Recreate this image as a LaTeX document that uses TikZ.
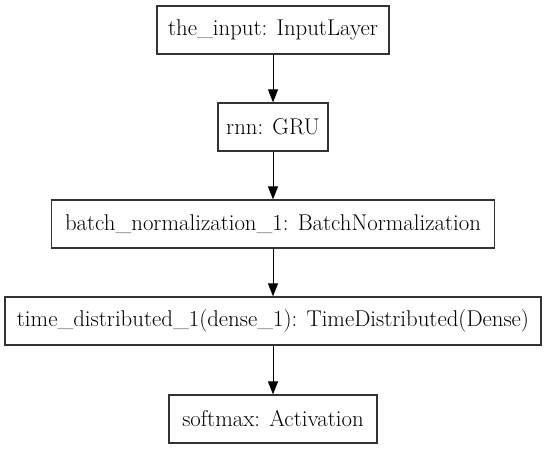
\documentclass[tikz,border=0pt]{standalone}
\usetikzlibrary{arrows.meta}
\begin{document}
\begin{tikzpicture}[x=0.75pt,y=-0.75pt,
  layer/.style={draw=black!80,line width=0.9pt,rectangle,inner sep=0pt,minimum height=36pt,font=\fontsize{17.1}{19}\selectfont},
  flow/.style={-{Triangle[length=9.75pt,width=7.5pt]},line width=0.75pt,black}]
\useasboundingbox (0,0) rectangle (547,449);
\node[layer,minimum width=174pt] (inp) at (273,30) {the\_input: InputLayer};
\node[layer,minimum width=82.5pt] (rnn) at (273,127) {rnn: GRU};
\node[layer,minimum width=332.25pt] (bn) at (273,224) {batch\_normalization\_1: BatchNormalization};
\node[layer,minimum width=402pt] (td) at (273,321) {time\_distributed\_1(dense\_1): TimeDistributed(Dense)};
\node[layer,minimum width=156pt] (sm) at (273,419) {softmax: Activation};
\draw[flow] (inp) -- (rnn);
\draw[flow] (rnn) -- (bn);
\draw[flow] (bn) -- (td);
\draw[flow] (td) -- (sm);
\end{tikzpicture}
\end{document}
